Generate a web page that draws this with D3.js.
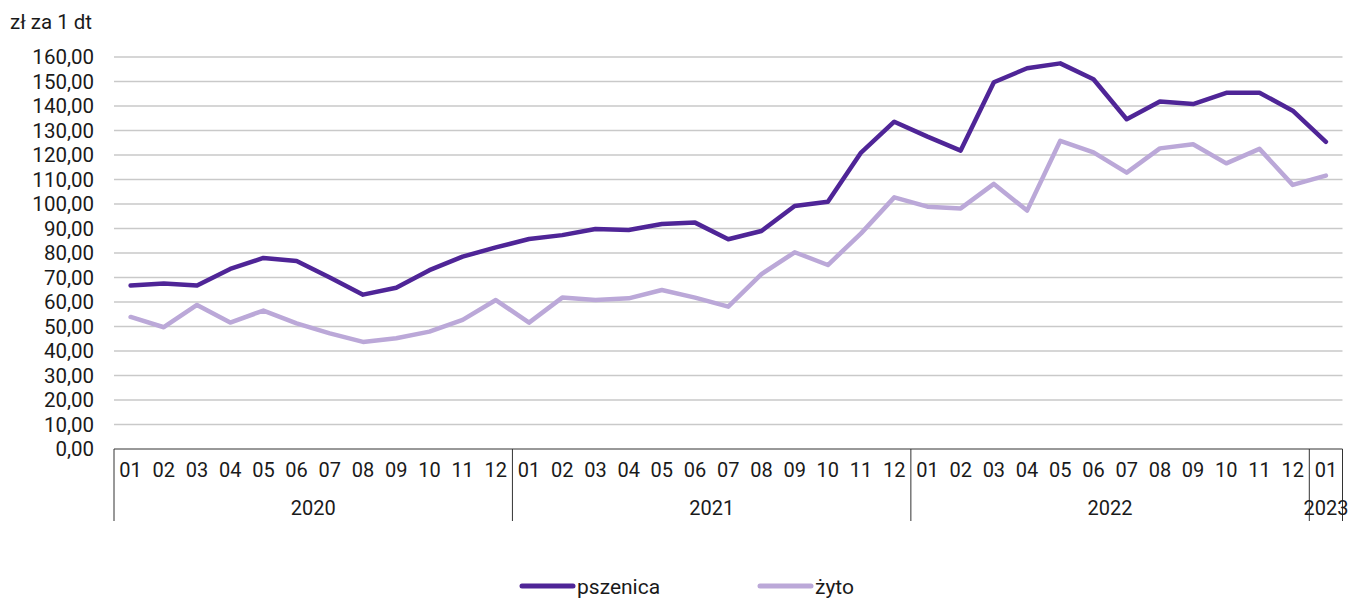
<!DOCTYPE html>
<html>
<head>
<meta charset="utf-8">
<script src="https://cdn.jsdelivr.net/npm/d3@7"></script>
<style>
    body { margin: 0; background: #fff; }
    svg { display: block; font-family: "Roboto", "Liberation Sans", sans-serif; }
</style>
</head>
<body>
<svg width="1349" height="598"></svg>
<script>
(function () {
    'use strict';

    var monthLabels = ["01","02","03","04","05","06","07","08","09","10","11","12",
                       "01","02","03","04","05","06","07","08","09","10","11","12",
                       "01","02","03","04","05","06","07","08","09","10","11","12",
                       "01"];
    var yearLabels = ["2020", "2021", "2022", "2023"];
    var monthsPerYear = [12, 12, 12, 1];

    var pszenica = [66.7, 67.6, 66.7, 73.5, 78.0, 76.7, 70.0, 63.0, 65.8, 73.0, 78.5, 82.3,
                    85.7, 87.3, 89.8, 89.4, 91.8, 92.4, 85.6, 89.0, 99.2, 100.9, 121.0, 133.6,
                    127.5, 121.8, 149.7, 155.4, 157.4, 150.9, 134.6, 141.8, 140.8, 145.4, 145.4, 138.1,
                    125.4];
    var zyto = [53.9, 49.7, 58.8, 51.6, 56.5, 51.3, 47.2, 43.7, 45.2, 47.9, 52.7, 60.8,
                51.6, 61.8, 60.8, 61.5, 64.9, 61.8, 58.1, 71.4, 80.3, 75.1, 88.0, 102.7,
                98.9, 98.2, 108.2, 97.3, 125.8, 121.1, 112.8, 122.7, 124.4, 116.6, 122.5, 107.8,
                111.6];
    var yTicks = d3.range(0, 161, 10);

    var svg = d3.select("svg"),
        left = 114, right = 1342.5, top = 57, bottom = 449;

    var x = d3.scaleBand()
        .domain(d3.range(monthLabels.length))
        .range([left, right])
        .padding(0);

    var y = d3.scaleLinear()
        .domain([0, 160])
        .range([bottom, top]);

    var fmt = function (v) { return d3.format(".2f")(v).replace(".", ","); };

    // gridlines
    svg.append("g")
        .selectAll("line")
        .data(yTicks.filter(function (d) { return d > 0; }))
        .enter().append("line")
        .attr("x1", left).attr("x2", right)
        .attr("y1", function (d) { return y(d); })
        .attr("y2", function (d) { return y(d); })
        .attr("stroke", "#c9c9c9")
        .attr("stroke-width", 1.3);

    // y labels
    svg.append("g")
        .selectAll("text")
        .data(yTicks)
        .enter().append("text")
        .attr("x", 94)
        .attr("y", function (d) { return y(d); })
        .attr("dy", "0.36em")
        .attr("text-anchor", "end")
        .attr("font-size", 20.5)
        .attr("fill", "#1a1a1a")
        .text(fmt);

    svg.append("text")
        .attr("x", 10).attr("y", 29)
        .attr("font-size", 20.5)
        .attr("fill", "#1a1a1a")
        .text("zł za 1 dt");

    // x axis
    svg.append("line")
        .attr("x1", left).attr("x2", right)
        .attr("y1", bottom).attr("y2", bottom)
        .attr("stroke", "#333").attr("stroke-width", 1);

    svg.append("g")
        .selectAll("text")
        .data(monthLabels)
        .enter().append("text")
        .attr("x", function (d, i) { return x(i) + x.bandwidth() / 2; })
        .attr("y", 477)
        .attr("text-anchor", "middle")
        .attr("font-size", 20)
        .attr("fill", "#1a1a1a")
        .text(function (d) { return d; });

    var starts = [0];
    monthsPerYear.forEach(function (n, i) { starts.push(starts[i] + n); });

    svg.append("g")
        .selectAll("line")
        .data(starts)
        .enter().append("line")
        .attr("x1", function (s) { return s < monthLabels.length ? x(s) : right; })
        .attr("x2", function (s) { return s < monthLabels.length ? x(s) : right; })
        .attr("y1", bottom).attr("y2", 521)
        .attr("stroke", "#333").attr("stroke-width", 1);

    svg.append("g")
        .selectAll("text")
        .data(yearLabels)
        .enter().append("text")
        .attr("x", function (d, i) {
            var a = x(starts[i]);
            var b = starts[i + 1] < monthLabels.length ? x(starts[i + 1]) : right;
            return (a + b) / 2;
        })
        .attr("y", 515)
        .attr("text-anchor", "middle")
        .attr("font-size", 20)
        .attr("fill", "#1a1a1a")
        .text(function (d) { return d; });

    var line = d3.line()
        .x(function (d, i) { return x(i) + x.bandwidth() / 2; })
        .y(function (d) { return y(d); });

    var series = [
        { name: "pszenica", values: pszenica, color: "#4f2597" },
        { name: "żyto", values: zyto, color: "#bba8d8" }
    ];

    // draw light first so dark stays on top
    series.slice().reverse().forEach(function (s) {
        svg.append("path")
            .datum(s.values)
            .attr("fill", "none")
            .attr("stroke", s.color)
            .attr("stroke-width", 4.5)
            .attr("stroke-linejoin", "round")
            .attr("stroke-linecap", "round")
            .attr("d", line);
    });

    // legend
    var legX = [522, 760];
    series.forEach(function (s, i) {
        svg.append("line")
            .attr("x1", legX[i]).attr("x2", legX[i] + 51)
            .attr("y1", 586).attr("y2", 586)
            .attr("stroke", s.color)
            .attr("stroke-width", 5)
            .attr("stroke-linecap", "round");
        svg.append("text")
            .attr("x", legX[i] + 55).attr("y", 594)
            .attr("font-size", 21)
            .attr("fill", "#1a1a1a")
            .text(s.name);
    });
})();
</script>
</body>
</html>
